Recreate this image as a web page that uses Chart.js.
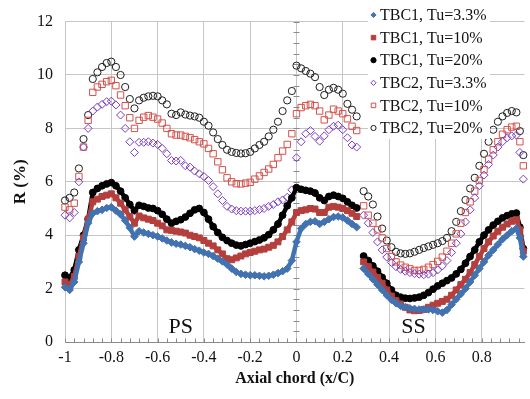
<!DOCTYPE html>
<html>
<head>
<meta charset="utf-8">
<script src="https://cdn.jsdelivr.net/npm/chart.js@4.4.1/dist/chart.umd.min.js"></script>
<style>
  html, body { margin: 0; padding: 0; background: #fff; overflow: hidden; }
  #wrap { width: 530px; height: 399px; }
</style>
</head>
<body>
<div id="wrap"><canvas id="grafico" width="530" height="399"></canvas></div>
<script>
// posições x/C: lado de pressão (PS) e lado de sucção (SS)
const xPS = [-1, -0.98, -0.96, -0.94, -0.92, -0.9, -0.88, -0.86, -0.84, -0.82,
  -0.8, -0.78, -0.76, -0.74, -0.72, -0.7, -0.68, -0.66, -0.64, -0.62,
  -0.6, -0.58, -0.56, -0.54, -0.52, -0.5, -0.48, -0.46, -0.44, -0.42,
  -0.4, -0.38, -0.36, -0.34, -0.32, -0.3, -0.28, -0.26, -0.24, -0.22,
  -0.2, -0.18, -0.16, -0.14, -0.12, -0.1, -0.08, -0.06, -0.04, -0.02,
  0, 0.02, 0.04, 0.06, 0.08, 0.1, 0.12, 0.14, 0.16, 0.18,
  0.2, 0.22, 0.24, 0.26];
const xSS = [0.29, 0.31, 0.33, 0.35, 0.37, 0.39, 0.41, 0.43, 0.45, 0.47,
  0.49, 0.51, 0.53, 0.55, 0.57, 0.59, 0.61, 0.63, 0.65, 0.67,
  0.69, 0.71, 0.73, 0.75, 0.77, 0.79, 0.81, 0.83, 0.85, 0.87,
  0.89, 0.91, 0.93, 0.95, 0.965, 0.98];

// R (%) - TBC1
const tbc1Tu3PS = [2.05, 1.95, 2.25, 3.0, 3.7, 4.45, 4.82, 4.9, 4.95, 5.02,
  5.05, 4.92, 4.78, 4.55, 4.28, 3.95, 4.15, 4.1, 4.05, 4.0,
  3.95, 3.88, 3.8, 3.73, 3.68, 3.65, 3.6, 3.55, 3.48, 3.42,
  3.35, 3.3, 3.22, 3.12, 3.02, 2.9, 2.75, 2.62, 2.55, 2.52,
  2.5, 2.5, 2.48, 2.46, 2.48, 2.52, 2.58, 2.65, 2.75, 3.05,
  3.75, 4.25, 4.42, 4.5, 4.52, 4.42, 4.5, 4.6, 4.68, 4.7,
  4.66, 4.55, 4.42, 4.3];
const tbc1Tu3SS = [2.75, 2.55, 2.35, 2.15, 1.95, 1.75, 1.58, 1.45, 1.35, 1.3,
  1.26, 1.24, 1.22, 1.22, 1.22, 1.2, 1.15, 1.1, 1.2, 1.4,
  1.6, 1.8, 2.0, 2.25, 2.5, 2.75, 3.0, 3.25, 3.45, 3.65,
  3.85, 4.0, 4.15, 4.25, 3.9, 3.2];

const tbc1Tu10PS = [2.25, 2.15, 2.45, 3.2, 3.9, 4.6, 5.25, 5.35, 5.45, 5.5,
  5.55, 5.4, 5.2, 4.95, 4.7, 4.45, 4.72, 4.65, 4.6, 4.55,
  4.45, 4.35, 4.2, 4.18, 4.15, 4.12, 4.08, 4.0, 3.95, 3.9,
  3.8, 3.7, 3.6, 3.45, 3.3, 3.12, 3.08, 3.15, 3.22, 3.3,
  3.35, 3.4, 3.45, 3.48, 3.55, 3.62, 3.75, 3.95, 4.2, 4.5,
  4.85, 4.92, 4.95, 5.0, 4.98, 4.85, 4.85, 5.05, 5.08, 5.05,
  5.0, 4.92, 4.82, 4.7];
const tbc1Tu10SS = [3.0, 2.82, 2.62, 2.42, 2.2, 1.95, 1.72, 1.55, 1.42, 1.3,
  1.2, 1.17, 1.18, 1.22, 1.3, 1.38, 1.45, 1.52, 1.6, 1.75,
  1.95, 2.15, 2.35, 2.6, 2.9, 3.2, 3.5, 3.75, 3.97, 4.15,
  4.3, 4.42, 4.52, 4.58, 4.2, 3.4];

const tbc1Tu20PS = [2.5, 2.4, 2.7, 3.45, 4.0, 4.6, 5.6, 5.75, 5.85, 5.92,
  5.97, 5.85, 5.65, 5.4, 5.15, 4.92, 5.12, 5.08, 5.02, 5.0,
  4.92, 4.78, 4.6, 4.45, 4.52, 4.58, 4.68, 4.82, 4.95, 5.0,
  4.85, 4.6, 4.32, 4.1, 3.92, 3.8, 3.7, 3.63, 3.6, 3.65,
  3.7, 3.76, 3.82, 3.9, 4.02, 4.2, 4.42, 4.75, 5.1, 5.4,
  5.78, 5.72, 5.68, 5.65, 5.58, 5.4, 5.3, 5.45, 5.5, 5.45,
  5.38, 5.25, 5.12, 5.02];
const tbc1Tu20SS = [3.22, 3.05, 2.85, 2.65, 2.42, 2.2, 1.95, 1.75, 1.68, 1.64,
  1.63, 1.65, 1.68, 1.75, 1.85, 1.98, 2.1, 2.2, 2.3, 2.4,
  2.55, 2.72, 2.95, 3.2, 3.45, 3.75, 4.0, 4.2, 4.38, 4.52,
  4.65, 4.73, 4.8, 4.83, 4.3, 3.5];

// R (%) - TBC2
const tbc2Tu3PS = [4.75, 4.65, 4.85, 6.0, 7.3, 8.0, 8.65, 8.8, 8.9, 9.0,
  9.02, 8.88, 8.5, 8.0, 7.5, 7.1, 7.48, 7.48, 7.5, 7.45,
  7.4, 7.25, 7.05, 6.8, 6.78, 6.8, 6.6, 6.55, 6.4, 6.3,
  6.2, 6.05, 5.82, 5.55, 5.3, 5.08, 4.98, 4.92, 4.9, 4.9,
  4.9, 4.92, 4.96, 5.0, 5.08, 5.15, 5.25, 5.32, 5.42, 5.7,
  6.9, 7.5, 7.8, 7.92, 7.7, 7.52, 7.72, 7.95, 8.08, 8.12,
  7.95, 7.65, 7.38, 7.3];
const tbc2Tu3SS = [4.75, 4.45, 4.1, 3.75, 3.45, 3.18, 2.98, 2.82, 2.72, 2.65,
  2.6, 2.56, 2.54, 2.52, 2.54, 2.6, 2.7, 2.85, 3.05, 3.35,
  3.7, 4.05, 4.5, 4.95, 5.4, 5.85, 6.25, 6.65, 7.0, 7.3,
  7.5, 7.65, 7.72, 7.75, 7.1, 6.1];

const tbc2Tu10PS = [5.05, 4.95, 5.2, 6.2, 7.3, 8.3, 9.35, 9.55, 9.65, 9.75,
  9.8, 9.6, 9.25, 8.85, 8.4, 8.0, 8.3, 8.42, 8.48, 8.42,
  8.35, 8.2, 8.0, 7.8, 7.75, 7.75, 7.7, 7.65, 7.58, 7.5,
  7.42, 7.25, 7.05, 6.75, 6.45, 6.15, 6.0, 5.93, 5.92, 5.95,
  5.98, 6.1, 6.22, 6.35, 6.48, 6.65, 6.9, 7.15, 7.4, 7.8,
  8.55, 8.78, 8.85, 8.9, 8.85, 8.65, 8.32, 8.5, 8.72, 8.65,
  8.55, 8.36, 8.08, 7.92];
const tbc2Tu10SS = [5.1, 4.75, 4.45, 4.2, 3.9, 3.5, 3.2, 3.0, 2.88, 2.8,
  2.74, 2.68, 2.68, 2.72, 2.8, 2.9, 3.02, 3.18, 3.4, 3.7,
  4.05, 4.45, 4.85, 5.25, 5.65, 6.05, 6.45, 6.85, 7.2, 7.5,
  7.78, 7.95, 8.05, 8.08, 7.5, 6.6];

const tbc2Tu20PS = [5.3, 5.4, 5.6, 6.5, 7.6, 8.5, 9.85, 10.1, 10.3, 10.45,
  10.5, 10.3, 10.0, 9.55, 9.1, 8.75, 9.05, 9.15, 9.2, 9.22,
  9.2, 9.05, 8.9, 8.55, 8.5, 8.6, 8.52, 8.48, 8.45, 8.4,
  8.25, 8.1, 7.85, 7.6, 7.38, 7.2, 7.12, 7.08, 7.06, 7.07,
  7.12, 7.25, 7.38, 7.5, 7.7, 7.95, 8.25, 8.65, 9.05, 9.4,
  10.35, 10.25, 10.15, 10.05, 9.92, 9.55, 9.25, 9.45, 9.52, 9.45,
  9.3, 8.92, 8.7, 8.45];
const tbc2Tu20SS = [5.65, 5.45, 5.15, 4.7, 4.25, 3.8, 3.55, 3.38, 3.32, 3.3,
  3.32, 3.38, 3.45, 3.52, 3.58, 3.64, 3.7, 3.78, 3.9, 4.15,
  4.5, 4.9, 5.32, 5.75, 6.15, 6.6, 7.05, 7.5, 7.95, 8.25,
  8.45, 8.58, 8.65, 8.6, 7.9, 7.0];

const rotulos = ['TBC1, Tu=3.3%', 'TBC1, Tu=10%', 'TBC1, Tu=20%',
  'TBC2, Tu=3.3%', 'TBC2, Tu=10%', 'TBC2, Tu=20%'];

const corGrade = '#c6c6c6';
const corEixo = '#8a8a8a';
const corTexto = '#111111';
const fonteSerif = '"Liberation Serif", "Times New Roman", serif';

Chart.defaults.font.family = fonteSerif;
Chart.defaults.color = corTexto;

// junta PS e SS, com um ponto vazio entre eles para cortar a faixa
function montarPontos(ps, ss) {
  const pts = xPS.map((x, i) => ({ x: x, y: ps[i] }));
  pts.push({ x: (xPS[xPS.length - 1] + xSS[0]) / 2, y: null });
  return pts.concat(xSS.map((x, i) => ({ x: x, y: ss[i] })));
}

function serie(label, ps, ss, estilo, cor, cheio, raio) {
  return {
    label: label,
    data: montarPontos(ps, ss),
    pointStyle: estilo,
    pointRadius: raio,
    pointBorderWidth: 1,
    borderColor: cor,
    pointBackgroundColor: cheio ? cor : 'rgba(0,0,0,0)',
    backgroundColor: cheio ? cor : 'rgba(0,0,0,0)',
    // marcadores cheios muito próximos formam uma faixa contínua
    showLine: cheio,
    borderWidth: cheio ? 4.5 : 0,
    spanGaps: false,
    clip: 6
  };
}

const datasets = [
  serie(rotulos[0], tbc1Tu3PS, tbc1Tu3SS, 'rectRot', '#4272b0', true, 3.8),
  serie(rotulos[1], tbc1Tu10PS, tbc1Tu10SS, 'rect', '#b43f3c', true, 4.2),
  serie(rotulos[2], tbc1Tu20PS, tbc1Tu20SS, 'circle', '#000000', true, 3.4),
  serie(rotulos[3], tbc2Tu3PS, tbc2Tu3SS, 'rectRot', '#7b3dc2', false, 4.0),
  serie(rotulos[4], tbc2Tu10PS, tbc2Tu10SS, 'rect', '#d4524c', false, 4.5),
  serie(rotulos[5], tbc2Tu20PS, tbc2Tu20SS, 'circle', '#1e1e1e', false, 3.6)
];

// marcas menores: eixo x a cada 0.04 e eixo vertical em x=0 a cada 0.4
const marcasMenores = {
  id: 'marcasMenores',
  beforeDatasetsDraw(chart) {
    const { ctx, scales: { x, y } } = chart;
    ctx.save();
    ctx.strokeStyle = corEixo;
    ctx.lineWidth = 1;
    ctx.beginPath();
    const y0 = Math.round(y.getPixelForValue(0)) + 0.5;
    for (let i = 0; i <= 50; i++) {
      const v = -1 + i * 0.04;
      if (v > x.max) break;
      const px = Math.round(x.getPixelForValue(v)) + 0.5;
      ctx.moveTo(px, y0);
      ctx.lineTo(px, y0 - 4);
    }
    const x0 = Math.round(x.getPixelForValue(0)) + 0.5;
    for (let i = 0; i <= 30; i++) {
      const py = Math.round(y.getPixelForValue(i * 0.4)) + 0.5;
      ctx.moveTo(x0 - 3, py);
      ctx.lineTo(x0 + 3, py);
    }
    ctx.stroke();
    ctx.restore();
  }
};

// rótulos das superfícies PS / SS
const superficies = {
  id: 'superficies',
  afterDatasetsDraw(chart) {
    const { ctx, scales: { x, y } } = chart;
    ctx.save();
    ctx.font = '22px ' + fonteSerif;
    ctx.fillStyle = corTexto;
    ctx.textAlign = 'center';
    ctx.textBaseline = 'alphabetic';
    ctx.fillText('PS', x.getPixelForValue(-0.5), y.getPixelForValue(0.33));
    ctx.fillText('SS', x.getPixelForValue(0.505), y.getPixelForValue(0.33));
    ctx.restore();
  }
};

// legenda sobreposta no canto superior direito
const legenda = {
  id: 'legenda',
  afterDraw(chart) {
    const ctx = chart.ctx;
    ctx.save();
    ctx.fillStyle = '#ffffff';
    ctx.fillRect(368, 2, 122, 137);
    ctx.font = '16px ' + fonteSerif;
    ctx.textBaseline = 'middle';
    chart.data.datasets.forEach((ds, i) => {
      const yy = 15 + i * 22.6;
      ctx.save();
      ctx.strokeStyle = ds.borderColor;
      ctx.fillStyle = ds.pointBackgroundColor;
      ctx.lineWidth = 1;
      Chart.helpers.drawPoint(ctx, {
        pointStyle: ds.pointStyle,
        radius: ds.pointStyle === 'rect' ? 3.2 : 2.6,
        rotation: 0,
        borderWidth: 1
      }, 373.5, yy);
      ctx.restore();
      ctx.fillStyle = corTexto;
      ctx.fillText(ds.label, 380, yy + 1);
    });
    ctx.restore();
  }
};

const ctx = document.getElementById('grafico').getContext('2d');
new Chart(ctx, {
  type: 'scatter',
  data: { datasets: datasets },
  options: {
    responsive: false,
    animation: false,
    devicePixelRatio: 1,
    layout: { padding: { top: 14, right: 0, bottom: 0, left: 0 } },
    scales: {
      x: {
        type: 'linear',
        min: -1,
        max: 0.985,
        afterFit: (scale) => { scale.height = 57; },
        ticks: {
          stepSize: 0.2,
          includeBounds: false,
          autoSkip: false,
          padding: 6,
          maxRotation: 0,
          font: { size: 16 },
          color: corTexto,
          callback: (v) => String(Number(v.toFixed(1)))
        },
        grid: { color: corGrade, drawTicks: false },
        border: { color: corEixo },
        title: {
          display: true,
          text: 'Axial chord (x/C)',
          font: { size: 16, weight: 'bold' },
          color: corTexto,
          padding: { top: 0, bottom: 11 }
        }
      },
      y: {
        min: 0,
        max: 12,
        afterFit: (scale) => { scale.width = 65; },
        ticks: {
          stepSize: 2,
          padding: 12,
          font: { size: 16 },
          color: corTexto
        },
        grid: { color: corGrade, drawTicks: false },
        border: { color: corGrade },
        title: {
          display: true,
          text: 'R (%)',
          font: { size: 17, weight: 'bold' },
          color: corTexto,
          padding: { top: 10, bottom: 0 }
        }
      }
    },
    plugins: {
      legend: { display: false },
      tooltip: { enabled: false }
    }
  },
  plugins: [marcasMenores, superficies, legenda]
});
</script>
</body>
</html>
